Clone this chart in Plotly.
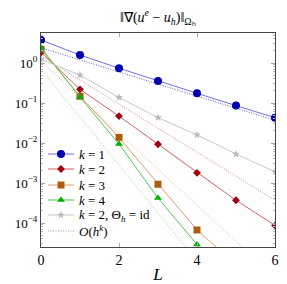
import plotly.graph_objects as go

levels = [0, 1, 2, 3, 4, 5, 6]
err_k1 = [3.76, 1.58, 0.74, 0.355, 0.175, 0.086, 0.043]
err_k2 = [1.85, 0.22, 0.047, 0.0093, 0.0018, 3.7e-4, 8.7e-5]
err_k3 = [2.2, 0.147, 0.0138, 9.3e-4, 6.7e-5, 9e-6]
err_k4 = [2.4, 0.14, 0.0094, 4.2e-4, 2.9e-5, 2.0e-6]
err_k2_id = [1.23, 0.5, 0.138, 0.043, 0.016, 0.0053, 0.0019]

ref_L = [0, 6]
ref_k1 = [2.4, 0.037]
ref_k2 = [1.5, 3.7e-4]
ref_k3 = [1.1, 4.4e-6]
ref_k4 = [0.7, 4.5e-8]

names = ["<i>k</i> = 1", "<i>k</i> = 2", "<i>k</i> = 3", "<i>k</i> = 4",
         "<i>k</i> = 2, Θ<sub><i>h</i></sub> = id", "<i>O</i>(<i>h<sup>k</sup></i>)"]

FONT = "Liberation Serif"
DOT = "1px,1.5px"
PW, PH = 234, 214  # plot area in px, used for the overlay legend axes
fig = go.Figure()

def ref(y, color):
    fig.add_trace(go.Scatter(x=ref_L, y=y, mode="lines", showlegend=False, hoverinfo="skip",
                             line=dict(color=color, width=1, dash=DOT)))

ref(ref_k1, "#5a5ae0")
ref(ref_k2, "#e08080")
ref(ref_k3, "#f0b888")
ref(ref_k4, "#88e088")

styles = [
    ("#7070e8", "#0000b0", "circle", 8),
    ("#d86060", "#a00010", "diamond", 6),
    ("#d8a070", "#b05a10", "square", 7),
    ("#50c850", "#00b000", "triangle-up", 7),
    ("#c8c8c8", "#b8b8b8", "star", 6),
]
for y, name, (lcol, mcol, sym, size) in zip([err_k1, err_k2, err_k3, err_k4, err_k2_id], names, styles):
    fig.add_trace(go.Scatter(x=levels[:len(y)], y=y, mode="lines+markers", name=name, showlegend=False,
                             line=dict(color=lcol, width=1),
                             marker=dict(color=mcol, symbol=sym, size=size, line=dict(width=0))))

# legend drawn on an overlay axis (pixel units inside the plot area)
row_y = [93, 78, 62, 47, 32, 16]
for i, name in enumerate(names):
    yy = row_y[i]
    if i < len(styles):
        lcol, mcol, sym, size = styles[i]
        fig.add_trace(go.Scatter(x=[7, 33], y=[yy, yy], xaxis="x2", yaxis="y2", mode="lines",
                                 showlegend=False, hoverinfo="skip", line=dict(color=lcol, width=1)))
        fig.add_trace(go.Scatter(x=[20], y=[yy], xaxis="x2", yaxis="y2", mode="markers",
                                 showlegend=False, hoverinfo="skip",
                                 marker=dict(color=mcol, symbol=sym, size=size, line=dict(width=0))))
    else:
        fig.add_trace(go.Scatter(x=[7, 33], y=[yy, yy], xaxis="x2", yaxis="y2", mode="lines",
                                 showlegend=False, hoverinfo="skip",
                                 line=dict(color="#999999", width=1, dash=DOT)))
    fig.add_annotation(text=name, xref="x2", yref="y2", x=36, y=yy, xanchor="left", yanchor="middle",
                       showarrow=False, font=dict(size=13))

fig.update_layout(
    width=287, height=284,
    margin=dict(l=41, r=12, t=33, b=37),
    paper_bgcolor="white", plot_bgcolor="white",
    font=dict(family=FONT, size=14, color="black"),
    showlegend=False,
    xaxis2=dict(overlaying="x", range=[0, PW], visible=False, fixedrange=True),
    yaxis2=dict(overlaying="y", range=[0, PH], visible=False, fixedrange=True),
)
fig.add_annotation(text="‖∇(<i>u<sup>e</sup></i> − <i>u<sub>h</sub></i>)‖<sub>Ωₕ</sub>",
                   xref="paper", x=0.5, xanchor="center", yref="paper", y=1.075, yanchor="middle",
                   showarrow=False, font=dict(size=14))
fig.update_layout(xaxis=dict(range=[0, 6], tickvals=[0, 2, 4, 6], ticks="inside", ticklen=4,
                             showline=True, linecolor="#444", linewidth=1, mirror="ticks",
                             showgrid=False, zeroline=False, tickcolor="#aaa", automargin=False,
                             title=dict(text="<i>L</i>", standoff=12)))
fig.update_layout(yaxis=dict(type="log", range=[-4.6, 0.75], tickvals=[1, 0.1, 0.01, 1e-3, 1e-4],
                             ticktext=["10<sup>0</sup>", "10<sup>−1</sup>", "10<sup>−2</sup>",
                                       "10<sup>−3</sup>", "10<sup>−4</sup>"],
                             ticks="inside", ticklen=4, tickcolor="#aaa", automargin=False,
                             tickfont=dict(size=13),
                             minor=dict(ticks="inside", ticklen=2, tickcolor="#bbb", dtick="D1", showgrid=False),
                             showline=True, linecolor="#444", linewidth=1, mirror="ticks",
                             showgrid=False, zeroline=False))
fig.write_html("out.html", config={"displayModeBar": False},
               post_script="document.body.style.margin='0px';")
